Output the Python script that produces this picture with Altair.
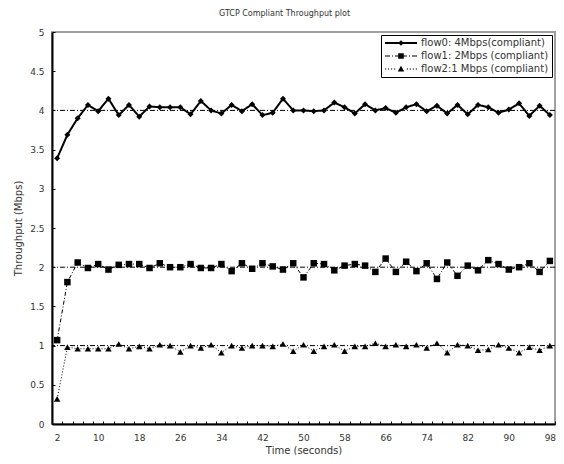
import altair as alt
import pandas as pd

times = list(range(2, 100, 2))
flow0 = [3.39, 3.69, 3.90, 4.07, 3.99, 4.15, 3.94, 4.07, 3.92, 4.05, 4.04, 4.04,
         4.04, 3.95, 4.12, 4.00, 3.96, 4.07, 3.99, 4.08, 3.94, 3.97, 4.15, 4.00,
         4.00, 3.99, 4.00, 4.10, 4.04, 3.96, 4.08, 4.00, 4.03, 3.97, 4.04, 4.08,
         3.99, 4.06, 3.96, 4.07, 3.95, 4.07, 4.04, 3.97, 4.01, 4.09, 3.93, 4.06, 3.94]
flow1 = [1.07, 1.81, 2.06, 1.99, 2.04, 1.97, 2.03, 2.04, 2.04, 1.99, 2.05, 2.00,
         2.00, 2.04, 1.99, 1.99, 2.04, 1.95, 2.05, 1.98, 2.05, 2.01, 1.97, 2.05,
         1.87, 2.05, 2.04, 1.96, 2.02, 2.04, 2.02, 1.94, 2.11, 1.94, 2.07, 1.95,
         2.05, 1.85, 2.06, 1.89, 2.02, 1.96, 2.09, 2.04, 1.97, 2.00, 2.05, 1.94, 2.08]
flow2 = [0.32, 0.98, 0.96, 0.96, 0.96, 0.96, 1.02, 0.96, 0.99, 0.96, 1.01, 1.00,
         0.92, 1.00, 0.97, 1.01, 0.91, 1.00, 0.97, 1.00, 1.00, 0.99, 1.02, 0.93,
         1.01, 0.93, 0.99, 1.01, 0.93, 0.99, 0.99, 1.03, 0.99, 1.01, 0.99, 1.01,
         0.97, 1.03, 0.91, 1.01, 1.00, 0.94, 0.95, 1.01, 0.97, 0.91, 0.98, 0.94, 1.00]
series_names = ["flow0: 4Mbps(compliant)", "flow1: 2Mbps (compliant)",
                "flow2:1 Mbps (compliant)"]
targets = [4, 2, 1]
y_ticks = [0, 0.5, 1, 1.5, 2, 2.5, 3, 3.5, 4, 4.5, 5]

W, H = 503, 392
px_s = W / 98.0
FONT = "DejaVu Sans"
TXT = "#333333"

x_scale = alt.Scale(domain=[1, 99], nice=False, zero=False)
y_scale = alt.Scale(domain=[0, 5], nice=False)

x_axis = alt.Axis(values=times, tickOffset=px_s, labelOffset=-px_s,
                  tickSize={"expr": "-3"}, labelPadding=12,
                  labelExpr="(datum.value - 2) % 8 == 0 ? datum.label : ''",
                  labelOverlap=False, labelFlush=False, grid=False,
                  title="Time (seconds)", titlePadding=3)
y_axis = alt.Axis(values=y_ticks, format="~g", tickSize={"expr": "-3"}, labelPadding=11,
                  labelOverlap=False, labelFlush=False, grid=False,
                  title="Throughput (Mbps)", titlePadding=6)

x_enc = alt.X("t:Q", scale=x_scale, axis=x_axis)
y_enc = alt.Y("v:Q", scale=y_scale, axis=y_axis)

rows = []
for name, vals in zip(series_names, [flow0, flow1, flow2]):
    for t, v in zip(times, vals):
        rows.append({"t": t, "v": v, "s": name})
df = pd.DataFrame(rows)
ref = pd.DataFrame({"v": targets, "s": series_names})

rules = alt.Chart(ref).mark_rule(color="black", strokeWidth=1,
                                 strokeDash=[5, 2, 1, 2]).encode(y=y_enc)

styles = [
    dict(dash=[1, 0], width=2, shape="diamond", size=36),
    dict(dash=[4, 2, 1, 2], width=1, shape="square", size=42),
    dict(dash=[1, 2], width=1, shape="triangle-up", size=42),
]
layers = [rules]
for name, st in zip(series_names, styles):
    base = alt.Chart(df).transform_filter(alt.datum.s == name)
    layers.append(base.mark_line(color="black", strokeWidth=st["width"],
                                 strokeDash=st["dash"]).encode(x=x_enc, y=y_enc))
    layers.append(base.mark_point(color="black", filled=True, opacity=1,
                                  shape=st["shape"], size=st["size"])
                  .encode(x=x_enc, y=y_enc))


def rect(x0, x1, h):
    return f"M{x0},{-h}H{x1}V{h}H{x0}Z"


# legend glyphs: line segments drawn as thin filled bars plus the marker
diamond = "M0,-0.7L0.7,0L0,0.7L-0.7,0Z"
square = "M-0.7,-0.7L0.7,-0.7L0.7,0.7L-0.7,0.7Z"
triangle = "M0,-0.8L0.8,0.6L-0.8,0.6Z"
p0 = rect(-4, 4, 0.22) + diamond
p1 = "".join(rect(a, b, 0.13) for a, b in
             [(-4, -2.75), (-2.25, -2.0), (-1.5, -0.6), (0.6, 1.5), (2.0, 2.25), (2.75, 4)]) + square
p2 = "".join(rect(a, a + 0.3, 0.14) for a in
             [-4, -3.25, -2.5, -1.75, 1.45, 2.2, 2.95, 3.7]) + triangle
paths = [p0, p1, p2]

leg = alt.Legend(orient="none", legendX=329, legendY=3, title=None,
                 strokeColor="black", fillColor="white", padding=3,
                 symbolSize=64, symbolOpacity=1, symbolStrokeWidth=0,
                 symbolFillColor="black",
                 symbolOffset=12, labelOffset=15, rowPadding=3,
                 labelFont=FONT, labelFontSize=10, labelColor=TXT)
carrier = alt.Chart(ref).transform_filter("false").mark_point(
    filled=True, color="black", opacity=1
).encode(
    shape=alt.Shape("s:N", scale=alt.Scale(domain=series_names, range=paths), legend=leg),
)
layers.append(carrier)

chart = alt.layer(*layers).properties(
    width=W, height=H,
    title=alt.TitleParams("GTCP Compliant Throughput plot", font=FONT, fontSize=8,
                          fontWeight="normal", color=TXT, offset=10, dx=-19),
    autosize=alt.AutoSizeParams(type="none"),
    padding={"left": 44, "top": 24, "right": 1, "bottom": 31},
).configure_view(stroke="#a0a0a0", strokeWidth=2).configure_axis(
    labelFont=FONT, labelFontSize=9, labelColor=TXT,
    titleFont=FONT, titleFontSize=10, titleColor=TXT, titleFontWeight="normal",
    domainColor="black", domainWidth=2, tickColor="black", tickWidth=1,
)

chart.save("out.html", embed_options={"renderer": "svg", "actions": False})
